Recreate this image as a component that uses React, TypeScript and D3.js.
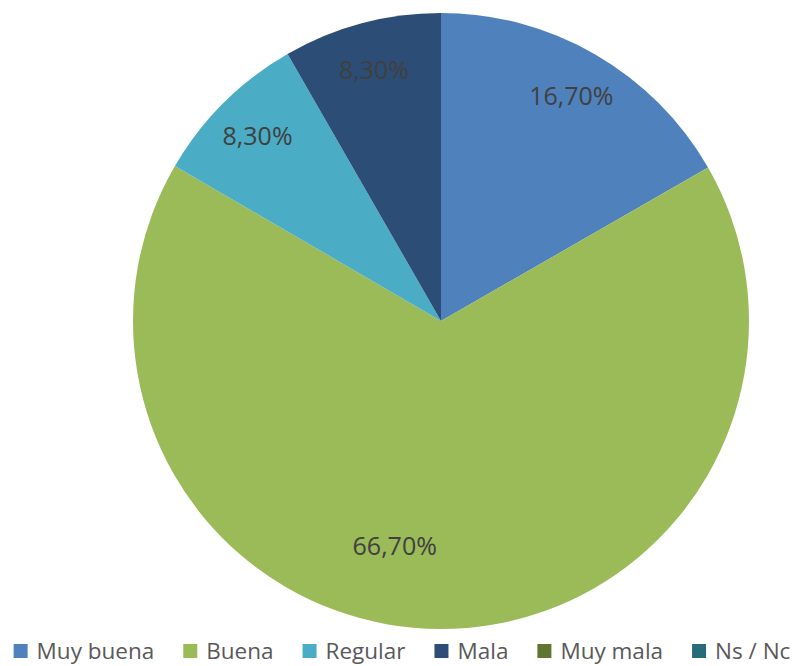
import React, { useEffect, useRef, useState } from "react";
import * as d3 from "d3";

const categories = ["Muy buena", "Buena", "Regular", "Mala", "Muy mala", "Ns / Nc"];
const values = [16.7, 66.7, 8.3, 8.3, 0, 0];
const labels = ["16,70%", "66,70%", "8,30%", "8,30%", "", ""];
const colors = ["#4F81BD", "#9BBB59", "#4BACC6", "#2C4D75", "#5F7530", "#276A7C"];

const W = 798;
const H = 666;
const CX = 441;
const CY = 321;
const R = 308;
const FONT = "'Open Sans', 'Liberation Sans', sans-serif";

export default function App() {
  const legendRef = useRef<SVGGElement>(null);
  const [widths, setWidths] = useState<number[]>(categories.map((c) => c.length * 12));

  useEffect(() => {
    if (!legendRef.current) return;
    const ts = legendRef.current.querySelectorAll("text");
    const w: number[] = [];
    ts.forEach((t) => w.push((t as SVGTextElement).getComputedTextLength()));
    if (w.some((x, i) => Math.abs(x - widths[i]) > 0.5)) setWidths(w);
  }, [widths]);

  const pie = d3.pie<number>().sort(null).value((d) => d);
  const arcs = pie(values);
  const arc = d3.arc<d3.PieArcDatum<number>>().innerRadius(0).outerRadius(R);

  const labelPos = (a: d3.PieArcDatum<number>) => {
    const span = a.endAngle - a.startAngle;
    const big = span > Math.PI;
    const frac = big ? 0.745 : 0.845;
    const mid = (a.startAngle + a.endAngle) / 2 + (big ? 0.2 : 0);
    return [Math.sin(mid) * R * frac, -Math.cos(mid) * R * frac];
  };

  // legend layout
  const sq = 14;
  const gapText = 9;
  const itemGap = 29;
  const itemW = widths.map((w) => sq + gapText + w);
  const total = d3.sum(itemW) + itemGap * (categories.length - 1);
  let x0 = W / 2 - total / 2 + 3;
  const xs: number[] = [];
  itemW.forEach((w) => {
    xs.push(x0);
    x0 += w + itemGap;
  });
  const ly = 651;

  return (
    <svg width={W} height={H} style={{ position: "absolute", left: 0, top: 0, background: "#fff" }}>
      <g transform={`translate(${CX},${CY})`}>
        {arcs.map((a, i) => (
          <path key={i} d={arc(a) || ""} fill={colors[i]} />
        ))}
        {arcs.map((a, i) => {
          if (!labels[i]) return null;
          const [x, y] = labelPos(a);
          return (
            <text
              key={"l" + i}
              x={x}
              y={y + 9}
              textAnchor="middle"
              fontFamily={FONT}
              fontSize={25}
              fill="#404040"
            >
              {labels[i]}
            </text>
          );
        })}
      </g>
      <g ref={legendRef}>
        {categories.map((c, i) => (
          <g key={c}>
            <rect x={xs[i]} y={ly - sq / 2} width={sq} height={sq} fill={colors[i]} />
            <text
              x={xs[i] + sq + gapText}
              y={ly + 8}
              fontFamily={FONT}
              fontSize={22.5}
              fill="#595959"
            >
              {c}
            </text>
          </g>
        ))}
      </g>
    </svg>
  );
}
